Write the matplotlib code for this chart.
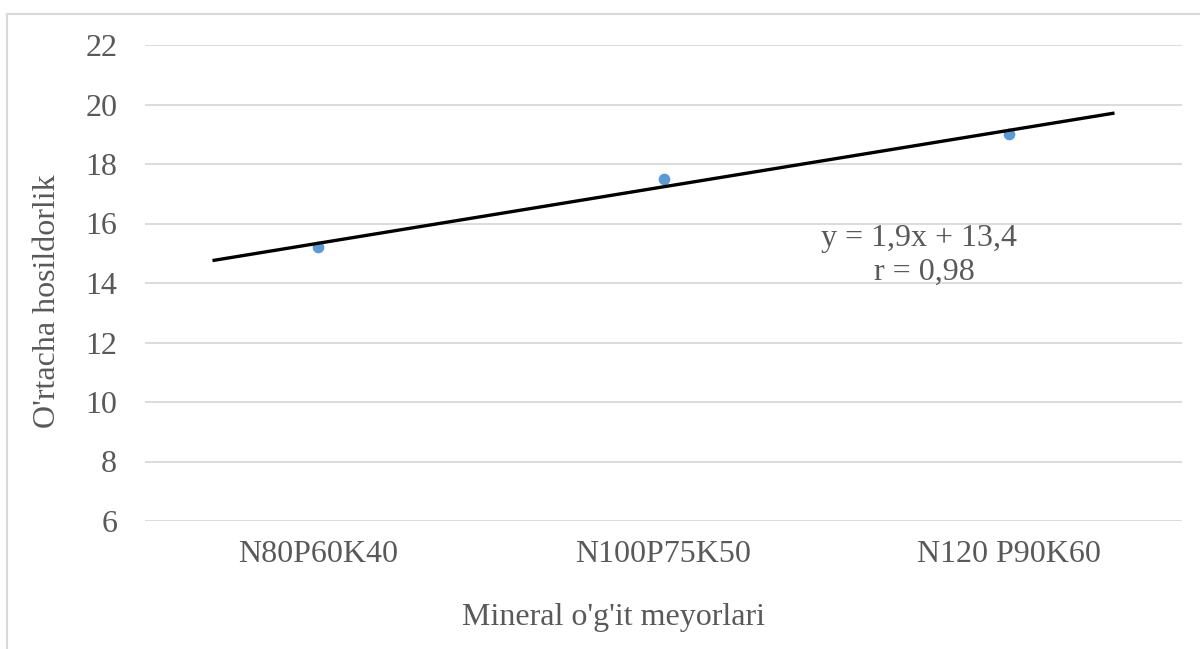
import matplotlib.pyplot as plt
import numpy as np
from matplotlib.patches import Rectangle

categories = ["N80P60K40", "N100P75K50", "N120 P90K60"]
yields = [15.2, 17.5, 19.0]
y_ticks = [6, 8, 10, 12, 14, 16, 18, 20, 22]
r_label = "r = 0,98"

text_color = "#595959"
grid_color = "#d9d9d9"
point_color = "#5b9bd5"

plt.rcParams['font.family'] = ['Liberation Serif', 'DejaVu Serif']

x = np.arange(1, len(categories) + 1)
slope, intercept = np.polyfit(x, yields, 1)

fig = plt.figure(figsize=(12, 6.49), dpi=100)
ax = fig.add_axes([145 / 1200, 1 - 521 / 649, (1182 - 145) / 1200, (521 - 45) / 649])

# light frame round the whole chart, cut at right and bottom like the source
fig.patches.append(Rectangle((7 / 1200, -0.1), 1.2, 1 - 14 / 649 + 0.1,
                             transform=fig.transFigure, fill=False,
                             edgecolor=grid_color, linewidth=1.5))

ax.set_xlim(0.5, 3.5)
ax.set_ylim(6, 22)
ax.set_yticks(y_ticks)
ax.set_xticks(x)
ax.set_xticklabels(categories)
ax.grid(axis='y', color=grid_color, linewidth=1.3)
ax.set_axisbelow(True)
for side in ax.spines.values():
    side.set_visible(False)
ax.tick_params(length=0, labelsize=23, colors=text_color)
ax.tick_params(axis='y', pad=20)
ax.tick_params(axis='x', pad=14)

ax.scatter(x, yields, s=55, color=point_color, zorder=3)

xt = np.array([x[0] - 0.3, x[-1] + 0.3])
ax.plot(xt, slope * xt + intercept, color='black', linewidth=2.4, zorder=4)

eq = f"y = {slope:.1f}x + {intercept:.1f}".replace(".", ",")
ax.text(2.74, 15.5, eq, ha='center', va='center', fontsize=23, color=text_color)
ax.text(2.755, 14.37, r_label, ha='center', va='center', fontsize=23, color=text_color)

fig.text(614 / 1200, 1 - 617 / 649, "Mineral o'g'it meyorlari", ha='center', va='center',
         fontsize=23, color=text_color)
fig.text(48 / 1200, 1 - 301 / 649, "O'rtacha hosildorlik", ha='center', va='center',
         rotation=90, fontsize=23, color=text_color)

fig.savefig("out.png", dpi=100)
